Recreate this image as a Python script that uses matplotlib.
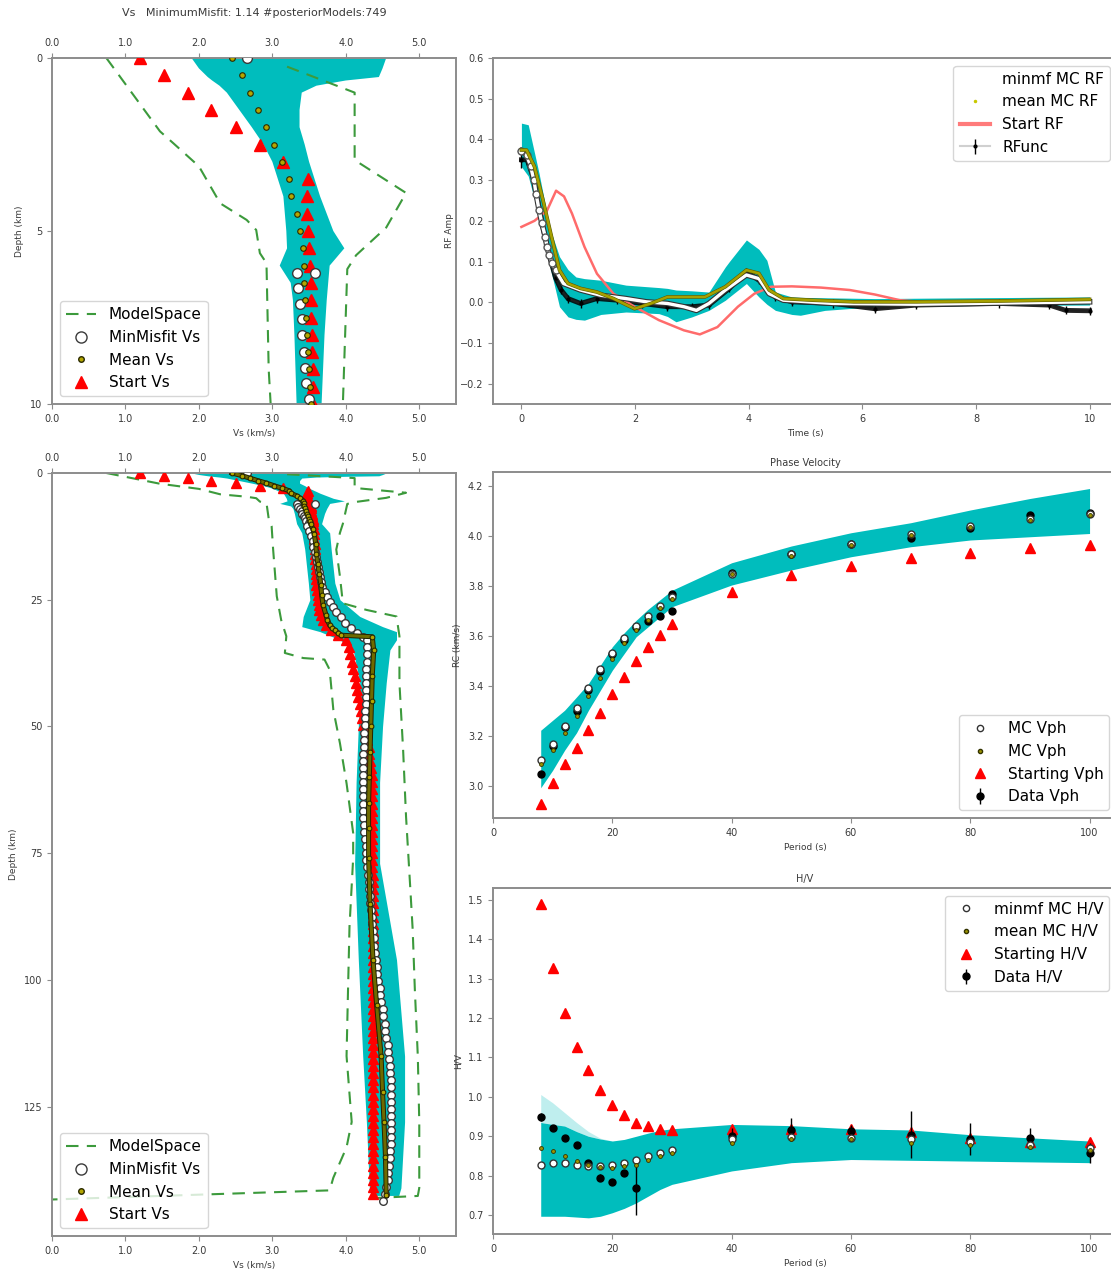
import matplotlib
matplotlib.use("Agg")
import matplotlib.pyplot as plt
import matplotlib.patheffects as pe
from matplotlib.lines import Line2D

plt.rcParams.update({
    "font.family": "DejaVu Sans",
    "axes.edgecolor": "#8c8c8c",
    "axes.linewidth": 1.4,
    "xtick.color": "#8c8c8c",
    "ytick.color": "#8c8c8c",
    "xtick.labelcolor": "#3a3a3a",
    "ytick.labelcolor": "#3a3a3a",
    "xtick.labelsize": 7,
    "ytick.labelsize": 7,
    "axes.labelsize": 6.5,
    "axes.labelcolor": "#3a3a3a",
    "legend.fontsize": 11,
})

# ---------------- Vs profiles (depth km, Vs km/s) ----------------
z_deep = [33.0, 34.4, 35.8, 37.2, 38.6, 40.0, 41.4, 42.8, 44.2, 45.6,
          47.0, 48.4, 49.8, 51.2, 52.6, 54.0, 55.4, 56.8, 58.2, 59.6,
          61.0, 62.4, 63.8, 65.2, 66.6, 68.0, 69.4, 70.8, 72.2, 73.6,
          75.0, 76.4, 77.8, 79.2, 80.6, 82.0, 83.4, 84.8, 86.2, 87.6,
          89.0, 90.4, 91.8, 93.2, 94.6, 96.0, 97.4, 98.8, 100.2, 101.6,
          103.0, 104.4, 105.8, 107.2, 108.6, 110.0, 111.4, 112.8, 114.2, 115.6,
          117.0, 118.4, 119.8, 121.2, 122.6, 124.0, 125.4, 126.8, 128.2, 129.6,
          131.0, 132.4, 133.8, 135.2, 136.6, 138.0, 139.4, 140.8, 142.2]

start_z_top = [0.0, 0.5, 1.0, 1.5, 2.0, 2.5, 3.0, 3.5, 4.0, 4.5,
               5.0, 5.5, 6.0, 6.5, 7.0, 7.5, 8.0, 8.5, 9.0, 9.5]
start_vs_top = [1.20, 1.52, 1.85, 2.17, 2.50, 2.83, 3.15, 3.48, 3.47, 3.47,
                3.49, 3.50, 3.51, 3.52, 3.52, 3.53, 3.54, 3.54, 3.55, 3.56]
start_z_mid = [10, 11, 12, 13, 14, 15, 16, 17, 18, 19, 20, 21, 22, 23, 24,
               25, 26, 27, 28, 29, 30, 31, 32]
start_vs_mid = [3.56, 3.57, 3.57, 3.57, 3.58, 3.58, 3.58, 3.58, 3.59, 3.59,
                3.59, 3.60, 3.60, 3.61, 3.62, 3.62, 3.63, 3.64, 3.66, 3.69,
                3.73, 3.80, 3.90]
start_vs_deep = [4.00, 4.04, 4.06, 4.08, 4.10, 4.12, 4.14, 4.15, 4.17, 4.19,
                 4.20, 4.22, 4.24, 4.27, 4.29, 4.31, 4.32, 4.33, 4.34, 4.35,
                 4.35, 4.36, 4.36, 4.36, 4.36, 4.36, 4.36, 4.36, 4.36, 4.36,
                 4.36, 4.36, 4.36, 4.37, 4.37, 4.37, 4.37, 4.37, 4.37, 4.37,
                 4.37, 4.37, 4.37, 4.37, 4.37, 4.37, 4.37, 4.37, 4.37, 4.37,
                 4.37, 4.37, 4.37, 4.37, 4.37, 4.37, 4.37, 4.37, 4.37, 4.37,
                 4.37, 4.37, 4.37, 4.37, 4.37, 4.37, 4.37, 4.37, 4.37, 4.37,
                 4.37, 4.37, 4.37, 4.37, 4.37, 4.37, 4.37, 4.37, 4.37]
start_z = start_z_top + start_z_mid + z_deep
start_vs = start_vs_top + start_vs_mid + start_vs_deep

mm_z_top = [0.0, 6.2, 6.2, 6.65, 7.1, 7.55, 8.0, 8.5, 8.95, 9.4, 9.85]
mm_vs_top = [2.65, 3.58, 3.34, 3.35, 3.37, 3.40, 3.41, 3.43, 3.44, 3.46, 3.50]
mm_z_mid = [10.5, 11.5, 12.5, 13.5, 14.5, 15.5, 16.5, 17.5, 18.5, 19.5, 20.5,
            21.5, 22.5, 23.5, 24.5, 25.5, 26.5, 27.5, 28.5, 29.5, 30.5, 31.5, 32.3]
mm_vs_mid = [3.47, 3.50, 3.53, 3.55, 3.56, 3.58, 3.59, 3.61, 3.62, 3.63, 3.65,
             3.66, 3.68, 3.71, 3.74, 3.78, 3.82, 3.87, 3.93, 3.99, 4.07, 4.15, 4.24]
mm_vs_deep = [4.29, 4.29, 4.29, 4.29, 4.28, 4.28, 4.28, 4.27, 4.27, 4.27,
              4.26, 4.26, 4.26, 4.25, 4.25, 4.25, 4.24, 4.24, 4.24, 4.23,
              4.23, 4.23, 4.23, 4.24, 4.24, 4.24, 4.25, 4.25, 4.26, 4.27,
              4.27, 4.28, 4.29, 4.30, 4.31, 4.32, 4.33, 4.33, 4.34, 4.35,
              4.36, 4.37, 4.38, 4.39, 4.40, 4.41, 4.42, 4.43, 4.44, 4.46,
              4.47, 4.48, 4.50, 4.51, 4.53, 4.54, 4.55, 4.57, 4.58, 4.59,
              4.60, 4.60, 4.61, 4.61, 4.62, 4.62, 4.62, 4.62, 4.62, 4.62,
              4.61, 4.61, 4.60, 4.60, 4.59, 4.58, 4.57, 4.55, 4.53]
mm_z = mm_z_top + mm_z_mid + z_deep + [143.5]
mm_vs = mm_vs_top + mm_vs_mid + mm_vs_deep + [4.50]

mean_z = [0.0, 0.5, 1.0, 1.5, 2.0, 2.5, 3.0, 3.5, 4.0, 4.5, 5.0, 5.5, 6.0, 6.5,
          7.0, 7.5, 8.0, 8.5, 9.0, 9.5, 10.0, 11.0, 12.0, 14.0, 16.0, 18.0,
          20.0, 22.0, 24.0, 26.0, 28.0, 29.0, 30.0, 30.5, 31.0, 31.5, 32.0,
          32.3, 35.0, 40.0, 45.0, 50.0, 55.0, 60.0, 65.0, 70.0, 76.0, 85.0,
          96.0, 105.0, 115.0, 122.0, 128.0, 135.0, 142.5]
mean_vs = [2.45, 2.58, 2.69, 2.80, 2.92, 3.02, 3.13, 3.23, 3.25, 3.33, 3.38,
           3.42, 3.43, 3.43, 3.45, 3.46, 3.47, 3.49, 3.50, 3.51, 3.52, 3.55,
           3.57, 3.59, 3.60, 3.62, 3.64, 3.66, 3.67, 3.69, 3.73, 3.75, 3.78,
           3.81, 3.85, 3.89, 3.94, 4.36, 4.38, 4.36, 4.35, 4.34, 4.33, 4.32,
           4.31, 4.31, 4.31, 4.33, 4.37, 4.42, 4.48, 4.50, 4.52, 4.54, 4.55]

# envelope of the posterior models
ens_z = [0.0, 0.3, 0.55, 0.65, 0.8, 1.0, 1.5, 2.0, 2.5, 3.0, 4.0, 5.0, 5.5,
         6.0, 6.5, 7.0, 8.0, 10.0, 11.8, 15.0, 21.7, 25.0, 28.3, 30.3, 31.3,
         32.9, 34.9, 41.4, 50.0, 61.0, 77.0, 96.0, 115.0, 128.0, 141.0, 142.5]
ens_lo = [1.90, 2.00, 2.12, 2.18, 2.28, 2.38, 2.55, 2.72, 2.88, 3.00, 3.15,
          3.19, 3.20, 3.10, 3.25, 3.28, 3.30, 3.33, 3.40, 3.44, 3.49, 3.51,
          3.42, 3.40, 3.65, 3.92, 4.10, 4.19, 4.17, 4.14, 4.12, 4.17, 4.23,
          4.28, 4.32, 4.35]
ens_hi = [4.55, 4.50, 4.45, 4.00, 3.60, 3.40, 3.37, 3.37, 3.44, 3.50, 3.65,
          3.83, 3.98, 3.78, 3.76, 3.74, 3.71, 3.67, 3.78, 3.80, 3.85, 3.92,
          4.19, 4.50, 4.69, 4.69, 4.60, 4.55, 4.50, 4.46, 4.46, 4.69, 4.80,
          4.80, 4.75, 4.72]

space_lo_z = [0.0, 2.12, 2.46, 3.13, 4.2, 4.68, 4.97, 5.64, 5.93, 9.0, 10.5,
              15.0, 24.3, 29.0, 32.2, 35.5, 36.5, 36.8, 38.8, 46.7, 53.3, 61.2,
              71.0, 76.0, 89.5, 102.0, 115.0, 128.0, 133.0, 139.0, 141.5, 143.3]
space_lo_vs = [0.74, 1.47, 1.65, 2.00, 2.29, 2.65, 2.78, 2.83, 2.92, 2.95,
               2.99, 3.01, 3.06, 3.12, 3.19, 3.17, 3.42, 3.71, 3.78, 3.83,
               3.92, 4.01, 4.10, 4.10, 4.05, 4.03, 4.01, 4.08, 4.01, 3.83,
               3.78, 0.0]
space_hi_z = [0.25, 1.0, 2.95, 3.9, 4.9, 5.7, 6.1, 10.0, 11.8, 15.1, 20.4,
              25.7, 27.0, 28.3, 32.2, 41.4, 54.6, 67.8, 80.0, 90.0, 102.0,
              115.0, 128.0, 141.0, 142.6, 143.0]
space_hi_vs = [3.20, 4.12, 4.12, 4.82, 4.55, 4.14, 4.02, 3.96, 3.92, 3.87,
               3.92, 3.96, 4.28, 4.69, 4.73, 4.73, 4.78, 4.82, 4.87, 4.91,
               4.94, 4.98, 5.00, 5.00, 4.98, 4.40]

vs_ticks = [0, 1, 2, 3, 4, 5]
vs_ticklabels = ["0.0", "1.0", "2.0", "3.0", "4.0", "5.0"]

# ---------------- receiver function ----------------
rf_t = [0, 0.1, 0.2, 0.3, 0.4, 0.5, 0.6, 0.7, 0.82, 1.04, 1.33, 1.69, 2.13,
        2.57, 3.0, 3.3, 3.66, 3.96, 4.18, 4.47, 4.76, 5.49, 6.22, 6.95, 8.41,
        9.29, 9.58, 10.0]
rf_amp = [0.35, 0.35, 0.31, 0.24, 0.17, 0.11, 0.06, 0.03, 0.009, -0.003,
          0.009, 0.005, -0.003, -0.011, -0.011, -0.007, 0.034, 0.075, 0.054,
          0.013, 0.001, -0.003, -0.016, -0.007, -0.003, -0.007, -0.020, -0.021]
rf_err = [0.02] + [0.01] * 27

minmf_t = [0, 0.09, 0.16, 0.22, 0.26, 0.31, 0.36, 0.42, 0.45, 0.49, 0.54,
           0.6, 0.74, 1.04, 1.4, 1.84, 2.2, 2.57, 2.86, 3.08, 3.3, 3.59, 3.96,
           4.18, 4.36, 4.61, 5.49, 6.95, 8.41, 10.0]
minmf_amp = [0.372, 0.362, 0.335, 0.30, 0.265, 0.227, 0.194, 0.161, 0.136,
             0.116, 0.097, 0.079, 0.046, 0.030, 0.017, 0.009, 0.001, -0.003,
             -0.011, -0.020, -0.003, 0.030, 0.067, 0.058, 0.021, 0.005, -0.003,
             -0.005, -0.002, 0.001]

mean_rf_t = [0, 0.09, 0.23, 0.38, 0.53, 0.67, 0.82, 1.04, 1.33, 1.62, 1.99,
             2.28, 2.57, 2.86, 3.23, 3.59, 3.96, 4.18, 4.36, 4.61, 5.13, 5.85,
             6.95, 8.41, 10.0]
mean_rf_amp = [0.374, 0.374, 0.333, 0.251, 0.161, 0.079, 0.046, 0.034, 0.025,
               0.009, -0.016, -0.003, 0.013, 0.013, 0.013, 0.038, 0.079, 0.071,
               0.030, 0.009, 0.005, 0.001, 0.001, 0.003, 0.007]

start_rf_t = [0, 0.23, 0.45, 0.61, 0.75, 0.89, 1.11, 1.33, 1.62, 1.99, 2.42,
              2.86, 3.14, 3.45, 3.81, 4.1, 4.39, 4.76, 5.27, 5.78, 6.22, 6.66,
              6.95, 8.0, 9.0, 10.0]
start_rf_amp = [0.185, 0.20, 0.225, 0.274, 0.26, 0.218, 0.136, 0.07, 0.021,
                -0.011, -0.044, -0.069, -0.079, -0.061, -0.011, 0.021, 0.038,
                0.039, 0.036, 0.030, 0.019, 0.005, 0.002, 0.003, 0.004, 0.005]

rf_env_t = [0, 0.12, 0.31, 0.45, 0.53, 0.67, 0.82, 0.96, 1.11, 1.4, 1.84,
            2.42, 2.57, 2.72, 3.0, 3.3, 3.59, 3.66, 3.96, 4.18, 4.32, 4.47,
            4.76, 4.91, 5.34, 6.22, 8.0, 10.0]
rf_env_hi = [0.44, 0.436, 0.317, 0.218, 0.17, 0.112, 0.08, 0.062, 0.058,
             0.054, 0.042, 0.036, 0.034, 0.03, 0.028, 0.025, 0.087, 0.10,
             0.153, 0.13, 0.103, 0.025, 0.013, 0.012, 0.011, 0.009, 0.011, 0.013]
rf_env_lo = [0.333, 0.31, 0.21, 0.12, 0.071, -0.011, -0.036, -0.042, -0.044,
             -0.03, -0.024, -0.028, -0.035, -0.048, -0.036, -0.020, 0.005,
             0.013, 0.046, 0.013, -0.005, -0.020, -0.03, -0.032, -0.020,
             -0.011, -0.008, -0.007]

# ---------------- phase velocity ----------------
periods = [8, 10, 12, 14, 16, 18, 20, 22, 24, 26, 28, 30, 40, 50, 60, 70, 80, 90, 100]
ph_start = [2.927, 3.014, 3.087, 3.152, 3.223, 3.294, 3.367, 3.436, 3.501,
            3.557, 3.604, 3.647, 3.777, 3.844, 3.881, 3.913, 3.934, 3.953, 3.966]
ph_minmf = [3.105, 3.169, 3.241, 3.312, 3.392, 3.467, 3.534, 3.592, 3.641,
            3.681, 3.721, 3.757, 3.850, 3.930, 3.970, 4.010, 4.040, 4.070, 4.090]
ph_mean = [3.089, 3.146, 3.212, 3.280, 3.359, 3.434, 3.507, 3.574, 3.623,
           3.666, 3.714, 3.747, 3.848, 3.920, 3.964, 4.004, 4.037, 4.064, 4.084]
ph_hi = [3.223, 3.263, 3.303, 3.356, 3.410, 3.483, 3.557, 3.613, 3.663,
         3.707, 3.745, 3.783, 3.893, 3.960, 4.013, 4.053, 4.104, 4.150, 4.190]
ph_lo = [2.993, 3.063, 3.143, 3.213, 3.303, 3.383, 3.463, 3.530, 3.597,
         3.637, 3.677, 3.717, 3.804, 3.864, 3.917, 3.957, 3.984, 3.997, 4.010]
ph_data_p = [8, 10, 12, 14, 16, 18, 20, 22, 24, 26, 28, 30, 30, 40, 50, 60, 70, 80, 90, 100]
ph_data = [3.047, 3.160, 3.235, 3.300, 3.385, 3.460, 3.530, 3.585, 3.635, 3.660,
           3.681, 3.702, 3.767, 3.852, 3.928, 3.970, 3.994, 4.033, 4.084, 4.091]
ph_err = [0.01] * 20

# ---------------- H/V ----------------
hv_start = [1.489, 1.327, 1.213, 1.127, 1.067, 1.018, 0.979, 0.955, 0.934,
            0.926, 0.919, 0.915, 0.919, 0.919, 0.919, 0.911, 0.896, 0.885, 0.885]
hv_minmf = [0.827, 0.833, 0.831, 0.828, 0.824, 0.824, 0.827, 0.833, 0.841,
            0.849, 0.858, 0.865, 0.892, 0.899, 0.896, 0.892, 0.885, 0.879, 0.871]
hv_mean = [0.871, 0.862, 0.851, 0.837, 0.828, 0.822, 0.820, 0.824, 0.828,
           0.841, 0.849, 0.858, 0.883, 0.892, 0.892, 0.883, 0.877, 0.873, 0.865]
hv_hi = [0.935, 0.930, 0.926, 0.912, 0.900, 0.893, 0.888, 0.892, 0.900,
         0.908, 0.915, 0.919, 0.930, 0.927, 0.919, 0.916, 0.904, 0.896, 0.888]
hv_lo = [0.697, 0.697, 0.697, 0.695, 0.693, 0.697, 0.706, 0.717, 0.731,
         0.748, 0.765, 0.778, 0.812, 0.833, 0.841, 0.839, 0.837, 0.835, 0.833]
hv_wisp = [1.006, 0.985, 0.960, 0.935, 0.912, 0.895, 0.888]
hv_data_p = [8, 10, 12, 14, 16, 18, 20, 22, 24, 40, 50, 60, 70, 80, 90, 100]
hv_data = [0.948, 0.921, 0.896, 0.877, 0.831, 0.795, 0.784, 0.807, 0.769,
           0.900, 0.917, 0.913, 0.904, 0.893, 0.896, 0.858]
hv_err = [0.01, 0.008, 0.008, 0.008, 0.008, 0.008, 0.008, 0.008, 0.068,
          0.02, 0.03, 0.015, 0.06, 0.04, 0.025, 0.025]

CYAN = "#00bdbd"
GREEN = "#3c9a3c"
OLIVE = "#b3a600"
DASH = (6, 4)

fig = plt.figure(figsize=(11.11, 12.70), dpi=100)
W, H = 1111.0, 1270.0


def box(l, t, r, b):
    return [l / W, 1 - b / H, (r - l) / W, (b - t) / H]


def vs_panel(ax, zmax, yticks, tri_ms, mm_ms, mean_ms, mean_line):
    ax.fill_betweenx(ens_z, ens_lo, ens_hi, color=CYAN, lw=0, zorder=1)
    ax.plot(space_lo_vs, space_lo_z, color=GREEN, lw=1.5, dashes=DASH, zorder=2)
    ax.plot(space_hi_vs, space_hi_z, color=GREEN, lw=1.5, dashes=DASH, zorder=2)
    ax.plot(start_vs, start_z, ls="none", marker="^", color="red", ms=tri_ms, zorder=3)
    ax.plot(mm_vs, mm_z, ls="none", marker="o", mfc="white", mec="#3a3a3a",
            mew=1, ms=mm_ms, zorder=4)
    if mean_line:
        ax.plot(mean_vs, mean_z, color="#6e6a00", lw=2.2, zorder=5,
                path_effects=[pe.Stroke(linewidth=3.6, foreground="#222200"), pe.Normal()])
    ax.plot(mean_vs, mean_z, ls="none", marker="o", mfc=OLIVE, mec="#2a2a00",
            mew=0.8, ms=mean_ms, zorder=6)
    ax.set_xlim(0, 5.5)
    ax.set_ylim(zmax, 0)
    ax.set_xticks(vs_ticks)
    ax.set_xticklabels(vs_ticklabels)
    ax.tick_params(axis="x", top=True, labeltop=True)
    ax.set_yticks(yticks)
    ax.set_xlabel("Vs (km/s)")
    ax.set_ylabel("Depth (km)")
    handles = [
        Line2D([], [], color=GREEN, lw=1.5, dashes=DASH),
        Line2D([], [], ls="none", marker="o", mfc="white", mec="#3a3a3a", ms=8),
        Line2D([], [], ls="none", marker="o", mfc=OLIVE, mec="#2a2a00", ms=4),
        Line2D([], [], ls="none", marker="^", color="red", ms=8),
    ]
    ax.legend(handles, ["ModelSpace", "MinMisfit Vs", "Mean Vs", "Start Vs"],
              loc="lower left")


# top-left: shallow Vs
ax_vs = fig.add_axes(box(52, 58, 456, 404))
vs_panel(ax_vs, 10, [0, 5, 10], 8.5, 7, 4, False)
fig.text(254 / W, 1 - 13 / H, "Vs   MinimumMisfit: 1.14 #posteriorModels:749",
         ha="center", va="center", fontsize=8, color="#3a3a3a")

# bottom-left: full Vs
ax_vs2 = fig.add_axes(box(52, 473, 456, 1236))
vs_panel(ax_vs2, 150.5, [0, 25, 50, 75, 100, 125], 7, 5.5, 3.4, True)

# top-right: receiver function
ax_rf = fig.add_axes(box(493, 58, 1118, 404))
ax_rf.fill_between(rf_env_t, rf_env_lo, rf_env_hi, color=CYAN, lw=0, zorder=1)
eb_rf = ax_rf.errorbar(rf_t, rf_amp, yerr=rf_err, fmt=".-", color="#d0d0d0",
                       mfc="k", mec="k", ms=4, ecolor="k", elinewidth=1, lw=1.5, zorder=2)
ax_rf.plot(rf_t, rf_amp, color="k", lw=3.5, alpha=0.85, zorder=3)
ax_rf.plot(start_rf_t, start_rf_amp, color="#ff6b6b", lw=1.8, zorder=4)
ax_rf.plot(minmf_t, minmf_amp, color="white", lw=2.4, zorder=5,
           path_effects=[pe.Stroke(linewidth=4, foreground="#333333"), pe.Normal()])
ax_rf.plot(minmf_t, minmf_amp, ls="none", marker="o", markevery=slice(0, 12),
           mfc="white", mec="#555555", ms=5, zorder=6)
ax_rf.plot(mean_rf_t, mean_rf_amp, color="#a6a000", lw=1.8, zorder=7,
           path_effects=[pe.Stroke(linewidth=2.6, foreground="#5a5a00"), pe.Normal()])
ax_rf.set_xlim(-0.5, 10.5)
ax_rf.set_ylim(-0.25, 0.6)
ax_rf.set_xticks([0, 2, 4, 6, 8, 10])
ax_rf.set_yticks([-0.2, -0.1, 0.0, 0.1, 0.2, 0.3, 0.4, 0.5, 0.6])
ax_rf.set_xlabel("Time (s)")
ax_rf.set_ylabel("RF Amp")
rf_handles = [
    Line2D([], [], ls="none", marker="o", mfc="white", mec="white", ms=5),
    Line2D([], [], ls="none", marker=".", color="#c8c800", ms=3),
    Line2D([], [], color="#ff7b7b", lw=3),
    eb_rf,
]
ax_rf.legend(rf_handles, ["minmf MC RF", "mean MC RF", "Start RF", "RFunc"],
             loc="upper right")

# middle-right: phase velocity
ax_ph = fig.add_axes(box(493, 472, 1117, 818))
ax_ph.fill_between(periods, ph_lo, ph_hi, color=CYAN, lw=0, zorder=1)
ax_ph.plot(periods, ph_start, ls="none", marker="^", color="red", ms=7, zorder=2)
eb_ph = ax_ph.errorbar(ph_data_p, ph_data, yerr=ph_err, fmt="o", color="k",
                       ms=5, elinewidth=1, zorder=3)
ax_ph.plot(periods, ph_minmf, ls="none", marker="o", mfc="white", mec="#333333",
           ms=5, zorder=4)
ax_ph.plot(periods, ph_mean, ls="none", marker="o", mfc="#9a9200", mec="#333300",
           mew=0.6, ms=2.8, zorder=5)
ax_ph.set_xlim(0, 104.6)
ax_ph.set_ylim(2.872, 4.256)
ax_ph.set_xticks([0, 20, 40, 60, 80, 100])
ax_ph.set_yticks([3.0, 3.2, 3.4, 3.6, 3.8, 4.0, 4.2])
ax_ph.set_xlabel("Period (s)")
ax_ph.set_ylabel("RC (km/s)")
ax_ph.set_title("Phase Velocity", fontsize=7, pad=4, color="#3a3a3a")
ph_handles = [
    Line2D([], [], ls="none", marker="o", mfc="white", mec="#333333", ms=4.5),
    Line2D([], [], ls="none", marker="o", mfc="#9a9200", mec="#333300", ms=3),
    Line2D([], [], ls="none", marker="^", color="red", ms=7),
    eb_ph,
]
ax_ph.legend(ph_handles, ["MC Vph", "MC Vph", "Starting Vph", "Data Vph"],
             loc="lower right")

# bottom-right: H/V
ax_hv = fig.add_axes(box(493, 888, 1117, 1234))
ax_hv.fill_between(periods[:7], hv_hi[:7], hv_wisp, color=CYAN, alpha=0.25, lw=0, zorder=1)
ax_hv.fill_between(periods, hv_lo, hv_hi, color=CYAN, lw=0, zorder=1)
ax_hv.plot(periods, hv_start, ls="none", marker="^", color="red", ms=7, zorder=2)
eb_hv = ax_hv.errorbar(hv_data_p, hv_data, yerr=hv_err, fmt="o", color="k",
                       ms=5, elinewidth=1, zorder=3)
ax_hv.plot(periods, hv_minmf, ls="none", marker="o", mfc="white", mec="#333333",
           ms=5, zorder=4)
ax_hv.plot(periods, hv_mean, ls="none", marker="o", mfc="#9a9200", mec="#333300",
           mew=0.6, ms=2.8, zorder=5)
ax_hv.set_xlim(0, 104.6)
ax_hv.set_ylim(0.652, 1.53)
ax_hv.set_xticks([0, 20, 40, 60, 80, 100])
ax_hv.set_yticks([0.7, 0.8, 0.9, 1.0, 1.1, 1.2, 1.3, 1.4, 1.5])
ax_hv.set_xlabel("Period (s)")
ax_hv.set_ylabel("H/V")
ax_hv.set_title("H/V", fontsize=7, pad=4, color="#3a3a3a")
hv_handles = [
    Line2D([], [], ls="none", marker="o", mfc="white", mec="#333333", ms=4.5),
    Line2D([], [], ls="none", marker="o", mfc="#9a9200", mec="#333300", ms=3),
    Line2D([], [], ls="none", marker="^", color="red", ms=7),
    eb_hv,
]
ax_hv.legend(hv_handles, ["minmf MC H/V", "mean MC H/V", "Starting H/V", "Data H/V"],
             loc="upper right")

fig.savefig("out.png", dpi=100)
